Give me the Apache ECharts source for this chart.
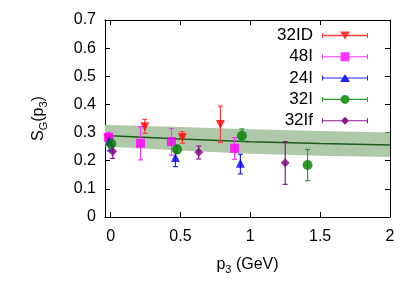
<!DOCTYPE html>
<html>
<head>
<meta charset="utf-8">
<script src="https://cdn.jsdelivr.net/npm/echarts@6/dist/echarts.min.js"></script>
<style>html,body{margin:0;padding:0;background:#fff}#c{width:415px;height:291px}</style>
</head>
<body>
<div id="c"></div>
<script>
// ---- data: [p3, S_G, lower error end, upper error end] ----
const s32ID = [[-0.02,0.279,0.268,0.290],[0.245,0.321,0.297,0.347],[0.514,0.282,0.262,0.303],[0.786,0.329,0.265,0.394]];
const s48I  = [[-0.015,0.283,0.265,0.300],[0.214,0.262,0.203,0.321],[0.436,0.268,0.220,0.315],[0.888,0.244,0.205,0.282]];
const s24I  = [[-0.01,0.270,0.235,0.290],[0.464,0.211,0.179,0.234],[0.929,0.191,0.153,0.223]];
const s32I  = [[0.005,0.260,0.240,0.280],[0.476,0.240,0.226,0.256],[0.940,0.289,0.270,0.313],[1.410,0.185,0.129,0.240]];
const s32If = [[0.015,0.233,0.208,0.252],[0.631,0.230,0.206,0.252],[1.250,0.193,0.116,0.268]];
// fit band
const bandX    = [-0.04, 0, 0.5, 1, 1.5, 2];
const bandMid  = [0.290, 0.289, 0.277, 0.267, 0.261, 0.256];
const bandHigh = [0.328, 0.327, 0.320, 0.312, 0.306, 0.300];
const bandLow  = [0.251, 0.250, 0.236, 0.225, 0.218, 0.213];
// ticks
const xTicks = [0, 0.5, 1, 1.5, 2];
const yTicks = [0, 0.1, 0.2, 0.3, 0.4, 0.5, 0.6, 0.7];

const FONT = 'Liberation Sans';
const seriesDefs = [
  {name:'32ID', data:s32ID, color:'#ff0000', bar:'#ff3b3b', symbol:'triangle', rot:180, size:9,
   icon:'M0 2.5H1V7.5H0Z M45 2.5H46V7.5H45Z M0 4.3H46V5.7H0Z M18 1H28L23 9Z'},
  {name:'48I', data:s48I, color:'#ff00ff', bar:'#ff33ff', symbol:'rect', rot:0, size:9,
   icon:'M0 2.5H1V7.5H0Z M45 2.5H46V7.5H45Z M0 4.5H46V5.5H0Z M18.5 0.5H27.5V9.5H18.5Z'},
  {name:'24I', data:s24I, color:'#0000ff', bar:'#2020ff', symbol:'triangle', rot:0, size:9,
   icon:'M0 2.5H1V7.5H0Z M45 2.5H46V7.5H45Z M0 4.5H46V5.5H0Z M23 1L28 9H18Z'},
  {name:'32I', data:s32I, color:'#008000', bar:'#2e9a2e', symbol:'circle', rot:0, size:10,
   icon:'M0 2.5H1V7.5H0Z M45 2.5H46V7.5H45Z M0 4.3H46V5.7H0Z M23 0.5A4.5 4.5 0 1 1 22.99 0.5Z'},
  {name:'32If', data:s32If, color:'#800080', bar:'#8a1a8a', symbol:'diamond', rot:0, size:9,
   icon:'M0 2.5H1V7.5H0Z M45 2.5H46V7.5H45Z M0 4.5H46V5.5H0Z M23 1L27 5L23 9L19 5Z'}
];

const series = [];
// band
series.push({
  type:'custom', silent:true, z:1,
  data: bandX.map((x,i)=>[x, bandLow[i], bandHigh[i]]),
  renderItem: function(params, api){
    if (params.dataIndex !== 0) return;
    const top = bandX.map((x,i)=>api.coord([x, bandHigh[i]]));
    const bot = bandX.map((x,i)=>api.coord([x, bandLow[i]])).reverse();
    return {type:'polygon', shape:{points: top.concat(bot)}, style:{fill:'#aec8a9'}};
  }
});
series.push({
  type:'line', silent:true, z:2, symbol:'none',
  data: bandX.map((x,i)=>[x, bandMid[i]]),
  lineStyle:{color:'#1f5a1f', width:1.5}
});
seriesDefs.forEach(function(d){
  series.push({
    type:'custom', name:d.name, z:3, silent:true,
    data:d.data,
    renderItem: function(params, api){
      const x = api.value(0), lo = api.value(2), hi = api.value(3);
      const p1 = api.coord([x, lo]), p2 = api.coord([x, hi]);
      const c = 2.5;
      const st = {stroke:d.bar, lineWidth:1.2};
      return {type:'group', children:[
        {type:'line', shape:{x1:p1[0],y1:p1[1],x2:p2[0],y2:p2[1]}, style:st},
        {type:'line', shape:{x1:p1[0]-c,y1:p1[1],x2:p1[0]+c,y2:p1[1]}, style:st},
        {type:'line', shape:{x1:p2[0]-c,y1:p2[1],x2:p2[0]+c,y2:p2[1]}, style:st}
      ]};
    }
  });
  series.push({
    type:'scatter', name:d.name, z:4, silent:true,
    data:d.data.map(r=>[r[0], r[1]]),
    symbol:d.symbol, symbolRotate:d.rot, symbolSize:d.size,
    itemStyle:{color:d.color}
  });
});

const line = {show:true, onZero:false, lineStyle:{color:'#000', width:1}};
const tick = {show:true, inside:true, length:5, lineStyle:{color:'#000'}};
const subRich = {
  a:{fontFamily:FONT, fontSize:16, color:'#000', lineHeight:20},
  b:{fontFamily:FONT, fontSize:11, color:'#000', lineHeight:20, verticalAlign:'bottom', padding:[6,0,0,0]}
};

const option = {
  animation:false,
  backgroundColor:'#fff',
  grid:{left:105, right:25, top:20, bottom:74, containLabel:false},
  legend:{
    orient:'vertical', right:47, top:27, align:'right', padding:0,
    itemWidth:46, itemHeight:10, itemGap:4.3,
    selectedMode:false,
    textStyle:{fontFamily:FONT, fontSize:17, lineHeight:12, color:'#000', padding:[0,4,0,0]},
    data: seriesDefs.map(d=>({name:d.name, icon:'path://'+d.icon, itemStyle:{color:d.bar}}))
  },
  xAxis:[
    {
      type:'value', min:-0.04, max:2, position:'bottom',
      axisLine:line, splitLine:{show:false},
      axisTick:Object.assign({customValues:xTicks}, tick),
      axisLabel:{customValues:xTicks, fontFamily:FONT, fontSize:16, color:'#000', margin:12,
        formatter:v=>String(v)},
      name:'{a|p}{b|3}{a| (GeV)}', nameLocation:'middle', nameGap:38,
      nameTextStyle:{rich:subRich}
    },
    {
      type:'value', min:-0.04, max:2, position:'top',
      axisLine:line, splitLine:{show:false},
      axisTick:Object.assign({customValues:xTicks}, tick),
      axisLabel:{show:false}
    }
  ],
  yAxis:[
    {
      type:'value', min:0, max:0.7, interval:0.1, position:'left',
      axisLine:line, splitLine:{show:false}, axisTick:tick,
      axisLabel:{fontFamily:FONT, fontSize:16, color:'#000', margin:9,
        formatter:v=>String(Math.round(v*10)/10)},
      name:'{a|S}{b|G}{a|(p}{b|3}{a|)}', nameLocation:'middle', nameGap:56, nameRotate:90,
      nameTextStyle:{rich:subRich}
    },
    {
      type:'value', min:0, max:0.7, interval:0.1, position:'right',
      axisLine:line, splitLine:{show:false}, axisTick:tick,
      axisLabel:{show:false}
    }
  ],
  series: series
};

const chart = echarts.init(document.getElementById('c'), null, {renderer:'canvas'});
chart.setOption(option);
</script>
</body>
</html>
